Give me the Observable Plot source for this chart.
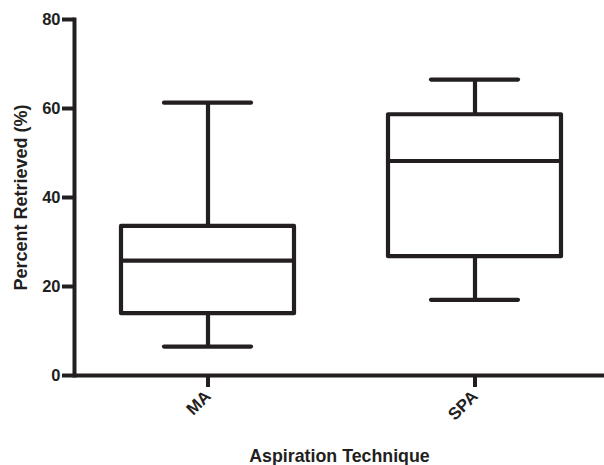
<!DOCTYPE html>
<html>
<head>
<meta charset="utf-8">
<script src="https://cdn.jsdelivr.net/npm/d3@7"></script>
<script src="https://cdn.jsdelivr.net/npm/@observablehq/plot@0.6"></script>
<style>
  html, body { margin: 0; padding: 0; background: #fff; }
</style>
</head>
<body>
<div id="chart"></div>
<script>
const groups = ["MA", "SPA"];
const mins = [6.5, 17.0];
const q1s = [13.9, 26.7];
const medians = [25.8, 48.2];
const q3s = [33.5, 58.6];
const maxs = [61.3, 66.5];
const yTicks = [0, 20, 40, 60, 80];
const xTitle = "Aspiration Technique";
const yTitle = "Percent Retrieved (%)";

const rows = groups.map((g, i) => ({
  group: g, min: mins[i], q1: q1s[i], median: medians[i], q3: q3s[i], max: maxs[i]
}));

const ink = "#231f20";
const font = "'Liberation Sans', Arial, Helvetica, sans-serif";

const chart = Plot.plot({
  width: 604,
  height: 465,
  marginLeft: 74,
  marginRight: 0,
  marginTop: 19,
  marginBottom: 90,
  style: { color: ink, fontFamily: font, background: "#fff" },
  x: { domain: groups, range: [74, 608], padding: 0 },
  y: { domain: [0, 80] },
  marks: [
    // whiskers
    Plot.ruleX(rows, { x: "group", y1: "min", y2: "q1", stroke: ink, strokeWidth: 4.2 }),
    Plot.ruleX(rows, { x: "group", y1: "q3", y2: "max", stroke: ink, strokeWidth: 4.2 }),
    // caps
    Plot.tickY(rows, { x: "group", y: "min", stroke: ink, strokeWidth: 4.2, strokeLinecap: "round", insetLeft: 90, insetRight: 90 }),
    Plot.tickY(rows, { x: "group", y: "max", stroke: ink, strokeWidth: 4.2, strokeLinecap: "round", insetLeft: 90, insetRight: 90 }),
    // boxes
    Plot.barY(rows, { x: "group", y1: "q1", y2: "q3", fill: "white", stroke: ink, strokeWidth: 4.2, strokeLinejoin: "round", insetLeft: 47, insetRight: 47 }),
    Plot.tickY(rows, { x: "group", y: "median", stroke: ink, strokeWidth: 4.2, insetLeft: 47, insetRight: 47 }),
    // axes
    Plot.axisY({ ticks: yTicks, tickSize: 12, tickPadding: 2, strokeWidth: 4, fontSize: 16.5, fontWeight: "bold", label: null, fill: ink }),
    Plot.axisX({ tickSize: 12, tickPadding: 6, strokeWidth: 4, tickRotate: -45, fontSize: 17, fontWeight: "bold", label: null, fill: ink }),
    Plot.frame({ anchor: "left", stroke: ink, strokeWidth: 4 }),
    Plot.ruleY([0], { stroke: ink, strokeWidth: 4 }),
    // titles
    Plot.text([xTitle], { text: d => d, frameAnchor: "bottom", dy: 86, lineAnchor: "bottom", fontSize: 17.8, fontWeight: "bold", fill: ink }),
    Plot.text([yTitle], { text: d => d, frameAnchor: "left", dx: -48, rotate: -90, textAnchor: "middle", lineAnchor: "bottom", fontSize: 18, fontWeight: "bold", fill: ink })
  ]
});
document.getElementById("chart").appendChild(chart);
</script>
</body>
</html>
